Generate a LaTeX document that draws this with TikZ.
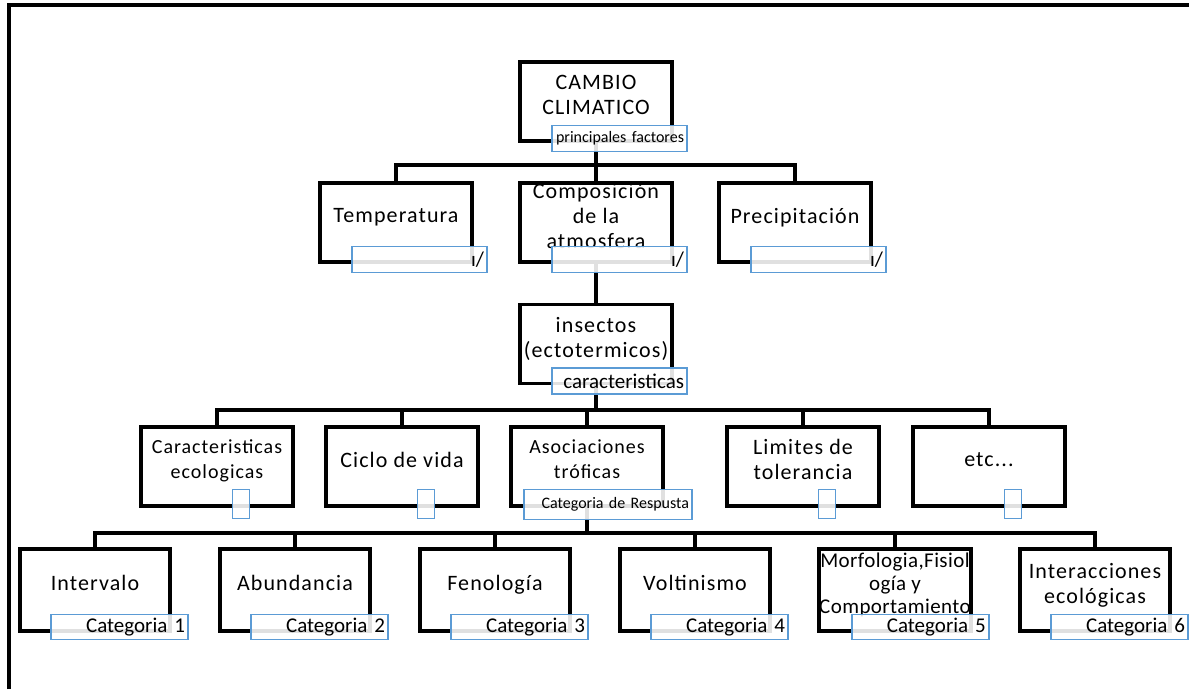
\documentclass[tikz,border=0pt]{standalone}
\usepackage{fontspec}
\setmainfont{Carlito}
\usepackage{tikz}

\definecolor{tagblue}{RGB}{91,155,213}
\newcommand{\lift}{\rule[-14pt]{0pt}{14pt}}

\tikzset{
  box/.style={draw, line width=3.5pt, fill=white, minimum width=152pt, minimum height=79pt,
    inner sep=0pt, align=center, execute at end node=\lift,
    font=\fontsize{22}{25}\selectfont\addfontfeatures{LetterSpace=5}},
  tag/.style={draw=tagblue, line width=1.4pt, fill=white, fill opacity=0.88, text opacity=1,
    inner xsep=3pt, inner ysep=0pt, minimum height=26pt, align=right, anchor=north east,
    font=\fontsize{21}{25}\selectfont},
  dot/.style={draw=tagblue, line width=1.4pt, fill=white, fill opacity=0.88,
    minimum width=17pt, minimum height=29pt, inner sep=0pt, anchor=north west},
  link/.style={line width=4.5pt},
}

\begin{document}
\begin{tikzpicture}[x=1pt, y=-1pt]

\useasboundingbox (0,0) rectangle (1189,689);
\draw[line width=4pt] (9,689) -- (9,5) -- (1189,5);

\node[box] (cambio) at (596,101.5) {CAMBIO\\CLIMATICO};

\node[box] (temp) at (396,222.5) {Temperatura};
\node[box] (comp) at (596,222.5) {Composición\\de la\\atmosfera};
\node[box] (precip) at (795,222.5) {Precipitación};

\node[box] (insectos) at (596,344) {insectos\\(ectotermicos)};

\node[box, font=\fontsize{20}{25}\selectfont\addfontfeatures{LetterSpace=5}] (carac) at (217,466.5) {Caracteristicas\\ecologicas};
\node[box] (ciclo) at (402,466.5) {Ciclo de vida};
\node[box, font=\fontsize{20}{25}\selectfont\addfontfeatures{LetterSpace=5}] (asoc) at (587,466.5) {Asociaciones\\tróficas};
\node[box] (limites) at (803,466.5) {Limites de\\tolerancia};
\node[box] (etcn) at (989,466.5) {etc...};

\node[box, minimum width=150pt, minimum height=82pt] (interv) at (95,590) {Intervalo};
\node[box, minimum width=150pt, minimum height=82pt] (abund) at (295,590) {Abundancia};
\node[box, minimum width=150pt, minimum height=82pt] (fenol) at (495,590) {Fenología};
\node[box, minimum width=150pt, minimum height=82pt] (voltin) at (695,590) {Voltinismo};
\node[box, minimum width=150pt, minimum height=82pt, font=\fontsize{21}{23}\selectfont\addfontfeatures{LetterSpace=2}] (morfo) at (895,590) {Morfologia,Fisiol\\ogía y\\Comportamiento};
\node[box, minimum width=150pt, minimum height=82pt] (interac) at (1095,590) {Interacciones\\ecológicas};

\coordinate (j1) at (596,165);
\coordinate (j2) at (596,410);
\coordinate (j3) at (587,533);

\draw[link] (cambio) -- (j1);
\draw[link] (j1) -| (temp);
\draw[link] (j1) -- (comp);
\draw[link] (j1) -| (precip);
\draw[link] (comp) -- (insectos);
\draw[link] (insectos) -- (j2);
\draw[link] (j2) -| (carac);
\draw[link] (j2) -| (ciclo);
\draw[link] (j2) -| (asoc);
\draw[link] (j2) -| (limites);
\draw[link] (j2) -| (etcn);
\draw[link] (asoc) -- (j3);
\draw[link] (j3) -| (interv);
\draw[link] (j3) -| (abund);
\draw[link] (j3) -| (fenol);
\draw[link] (j3) -| (voltin);
\draw[link] (j3) -| (morfo);
\draw[link] (j3) -| (interac);

\node[tag, text width=129pt, font=\fontsize{16}{19}\selectfont] (tcambio) at ([xshift=14pt,yshift=18pt]cambio.south east) {principales factores};
\node[tag, text width=129pt] (ttemp) at ([xshift=14pt,yshift=18pt]temp.south east) {ı/};
\node[tag, text width=129pt] (tcomp) at ([xshift=14pt,yshift=18pt]comp.south east) {ı/};
\node[tag, text width=129pt] (tprecip) at ([xshift=14pt,yshift=18pt]precip.south east) {ı/};
\node[tag, text width=129pt] (tinsectos) at ([xshift=14pt,yshift=18pt]insectos.south east) {caracteristicas};

\node[dot] (dcarac) at ([xshift=15pt,yshift=19pt]carac.south) {};
\node[dot] (dciclo) at ([xshift=15pt,yshift=19pt]ciclo.south) {};
\node[dot] (dlimites) at ([xshift=15pt,yshift=19pt]limites.south) {};
\node[dot] (detcn) at ([xshift=15pt,yshift=19pt]etcn.south) {};
\node[tag, anchor=north west, text width=162pt, minimum height=30pt, font=\fontsize{16}{19}\selectfont] (tasoc) at ([xshift=14pt,yshift=19pt]asoc.south west) {Categoria de Respusta};

\node[tag, text width=131pt, minimum height=25pt] (t1) at ([xshift=17pt,yshift=19pt]interv.south east) {Categoria 1};
\node[tag, text width=131pt, minimum height=25pt] (t2) at ([xshift=17pt,yshift=19pt]abund.south east) {Categoria 2};
\node[tag, text width=131pt, minimum height=25pt] (t3) at ([xshift=17pt,yshift=19pt]fenol.south east) {Categoria 3};
\node[tag, text width=131pt, minimum height=25pt] (t4) at ([xshift=17pt,yshift=19pt]voltin.south east) {Categoria 4};
\node[tag, text width=131pt, minimum height=25pt] (t5) at ([xshift=17pt,yshift=19pt]morfo.south east) {Categoria 5};
\node[tag, text width=131pt, minimum height=25pt] (t6) at ([xshift=17pt,yshift=19pt]interac.south east) {Categoria 6};

\end{tikzpicture}
\end{document}
